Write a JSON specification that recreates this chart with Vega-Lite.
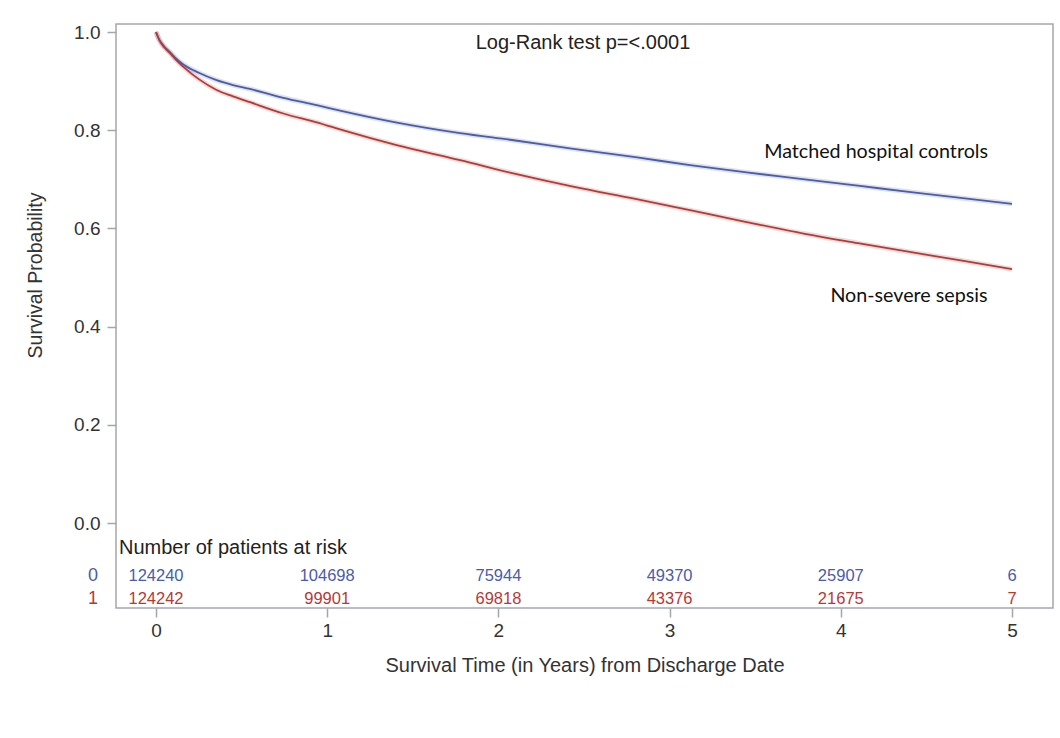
{
  "$schema": "https://vega.github.io/schema/vega-lite/v6.json",
  "autosize": {"type": "none"},
  "padding": {"left": 116, "top": 24, "right": 7, "bottom": 130},
  "width": 937,
  "height": 584,
  "background": "white",
  "config": {
    "view": {"stroke": "#a3a7ac", "strokeWidth": 1.5},
    "axis": {"grid": false, "domain": false, "labelFont": "Liberation Sans", "titleFont": "Liberation Sans", "labelColor": "#333333", "titleColor": "#333333", "tickColor": "#a3a7ac", "titleFontWeight": "normal", "tickWidth": 1.5}
  },
  "datasets": {
    "curves": [
      {"t": 0, "s": 1.0, "grp": "0"}, {"t": 0.02, "s": 0.984, "grp": "0"}, {"t": 0.05, "s": 0.970, "grp": "0"}, {"t": 0.082, "s": 0.959, "grp": "0"}, {"t": 0.12, "s": 0.945, "grp": "0"}, {"t": 0.16, "s": 0.934, "grp": "0"}, {"t": 0.25, "s": 0.917, "grp": "0"}, {"t": 0.354, "s": 0.902, "grp": "0"}, {"t": 0.45, "s": 0.892, "grp": "0"}, {"t": 0.549, "s": 0.884, "grp": "0"}, {"t": 0.744, "s": 0.866, "grp": "0"}, {"t": 0.939, "s": 0.851, "grp": "0"}, {"t": 1.075, "s": 0.840, "grp": "0"}, {"t": 1.4, "s": 0.816, "grp": "0"}, {"t": 1.776, "s": 0.794, "grp": "0"}, {"t": 2.1, "s": 0.779, "grp": "0"}, {"t": 2.418, "s": 0.763, "grp": "0"}, {"t": 2.8, "s": 0.745, "grp": "0"}, {"t": 3.119, "s": 0.729, "grp": "0"}, {"t": 3.45, "s": 0.714, "grp": "0"}, {"t": 3.79, "s": 0.700, "grp": "0"}, {"t": 4.1, "s": 0.687, "grp": "0"}, {"t": 4.385, "s": 0.675, "grp": "0"}, {"t": 4.7, "s": 0.662, "grp": "0"}, {"t": 5.0, "s": 0.650, "grp": "0"},
      {"t": 0, "s": 1.0, "grp": "1"}, {"t": 0.02, "s": 0.983, "grp": "1"}, {"t": 0.05, "s": 0.968, "grp": "1"}, {"t": 0.082, "s": 0.957, "grp": "1"}, {"t": 0.12, "s": 0.942, "grp": "1"}, {"t": 0.16, "s": 0.929, "grp": "1"}, {"t": 0.25, "s": 0.904, "grp": "1"}, {"t": 0.354, "s": 0.882, "grp": "1"}, {"t": 0.45, "s": 0.869, "grp": "1"}, {"t": 0.549, "s": 0.857, "grp": "1"}, {"t": 0.744, "s": 0.834, "grp": "1"}, {"t": 0.939, "s": 0.816, "grp": "1"}, {"t": 1.1, "s": 0.799, "grp": "1"}, {"t": 1.4, "s": 0.770, "grp": "1"}, {"t": 1.776, "s": 0.739, "grp": "1"}, {"t": 2.1, "s": 0.711, "grp": "1"}, {"t": 2.45, "s": 0.684, "grp": "1"}, {"t": 2.8, "s": 0.660, "grp": "1"}, {"t": 3.119, "s": 0.637, "grp": "1"}, {"t": 3.45, "s": 0.613, "grp": "1"}, {"t": 3.79, "s": 0.589, "grp": "1"}, {"t": 4.1, "s": 0.570, "grp": "1"}, {"t": 4.385, "s": 0.553, "grp": "1"}, {"t": 4.7, "s": 0.535, "grp": "1"}, {"t": 5.0, "s": 0.517, "grp": "1"}
    ],
    "risk": [
      {"t": 0, "grp": "0", "n": "124240"}, {"t": 1, "grp": "0", "n": "104698"}, {"t": 2, "grp": "0", "n": "75944"}, {"t": 3, "grp": "0", "n": "49370"}, {"t": 4, "grp": "0", "n": "25907"}, {"t": 5, "grp": "0", "n": "6"},
      {"t": 0, "grp": "1", "n": "124242"}, {"t": 1, "grp": "1", "n": "99901"}, {"t": 2, "grp": "1", "n": "69818"}, {"t": 3, "grp": "1", "n": "43376"}, {"t": 4, "grp": "1", "n": "21675"}, {"t": 5, "grp": "1", "n": "7"}
    ]
  },
  "layer": [
    {
      "data": {"name": "curves"},
      "mark": {"type": "line", "strokeWidth": 5, "opacity": 0.18, "interpolate": "monotone"},
      "encoding": {
        "x": {"field": "t", "type": "quantitative", "scale": {"domain": [-0.2336, 5.2395], "nice": false, "zero": false},
              "axis": {"values": [0, 1, 2, 3, 4, 5], "format": "d", "tickSize": 9, "labelFontSize": 19, "titleFontSize": 20, "labelPadding": 4, "titlePadding": 15, "title": "Survival Time (in Years) from Discharge Date"}},
        "y": {"field": "s", "type": "quantitative", "scale": {"domain": [-0.1731, 1.0163], "nice": false, "zero": false},
              "axis": {"values": [0, 0.2, 0.4, 0.6, 0.8, 1.0], "format": ".1f", "tickSize": 9, "labelFontSize": 19, "titleFontSize": 19.5, "labelPadding": 7, "title": "Survival Probability", "titleX": -81, "titleY": 251, "titleBaseline": "middle"}},
        "color": {"field": "grp", "type": "nominal", "scale": {"domain": ["0", "1"], "range": ["#4a5caa", "#b53a36"]}, "legend": null}
      }
    },
    {
      "data": {"name": "curves"},
      "mark": {"type": "line", "strokeWidth": 1.8, "interpolate": "monotone"},
      "encoding": {
        "x": {"field": "t", "type": "quantitative"},
        "y": {"field": "s", "type": "quantitative"},
        "color": {"field": "grp", "type": "nominal"}
      }
    },
    {
      "data": {"values": [{"label": "Log-Rank test p=<.0001", "t": 2.494, "s": 0.978}]},
      "mark": {"type": "text", "font": "Liberation Sans", "fontSize": 20, "color": "#222222", "align": "center", "baseline": "middle"},
      "encoding": {"x": {"field": "t", "type": "quantitative"}, "y": {"field": "s", "type": "quantitative"}, "text": {"field": "label"}}
    },
    {
      "data": {"values": [{"label": "Matched hospital controls", "t": 4.206, "s": 0.756}, {"label": "Non-severe sepsis", "t": 4.398, "s": 0.462}]},
      "mark": {"type": "text", "font": "Lato", "fontSize": 19.7, "color": "#111111", "align": "center", "baseline": "middle"},
      "encoding": {"x": {"field": "t", "type": "quantitative"}, "y": {"field": "s", "type": "quantitative"}, "text": {"field": "label"}}
    },
    {
      "data": {"values": [{"label": "Number of patients at risk"}]},
      "mark": {"type": "text", "font": "Liberation Sans", "fontSize": 20, "color": "#222222", "align": "left", "baseline": "middle"},
      "encoding": {"x": {"datum": -0.216}, "y": {"datum": -0.051}, "text": {"field": "label"}}
    },
    {
      "data": {"name": "risk"},
      "transform": [{"filter": "datum.grp == '0'"}],
      "mark": {"type": "text", "font": "Liberation Sans", "fontSize": 16.5, "align": "center", "baseline": "middle"},
      "encoding": {"x": {"field": "t", "type": "quantitative"}, "y": {"datum": -0.108}, "text": {"field": "n"}, "color": {"field": "grp", "type": "nominal"}}
    },
    {
      "data": {"name": "risk"},
      "transform": [{"filter": "datum.grp == '1'"}],
      "mark": {"type": "text", "font": "Liberation Sans", "fontSize": 16.5, "align": "center", "baseline": "middle"},
      "encoding": {"x": {"field": "t", "type": "quantitative"}, "y": {"datum": -0.155}, "text": {"field": "n"}, "color": {"field": "grp", "type": "nominal"}}
    },
    {
      "data": {"values": [{"grp": "0"}]},
      "mark": {"type": "text", "font": "Liberation Sans", "fontSize": 18, "align": "center", "baseline": "middle"},
      "encoding": {"x": {"datum": -0.368}, "y": {"datum": -0.108}, "text": {"field": "grp"}, "color": {"field": "grp", "type": "nominal"}}
    },
    {
      "data": {"values": [{"grp": "1"}]},
      "mark": {"type": "text", "font": "Liberation Sans", "fontSize": 18, "align": "center", "baseline": "middle"},
      "encoding": {"x": {"datum": -0.368}, "y": {"datum": -0.155}, "text": {"field": "grp"}, "color": {"field": "grp", "type": "nominal"}}
    }
  ]
}
